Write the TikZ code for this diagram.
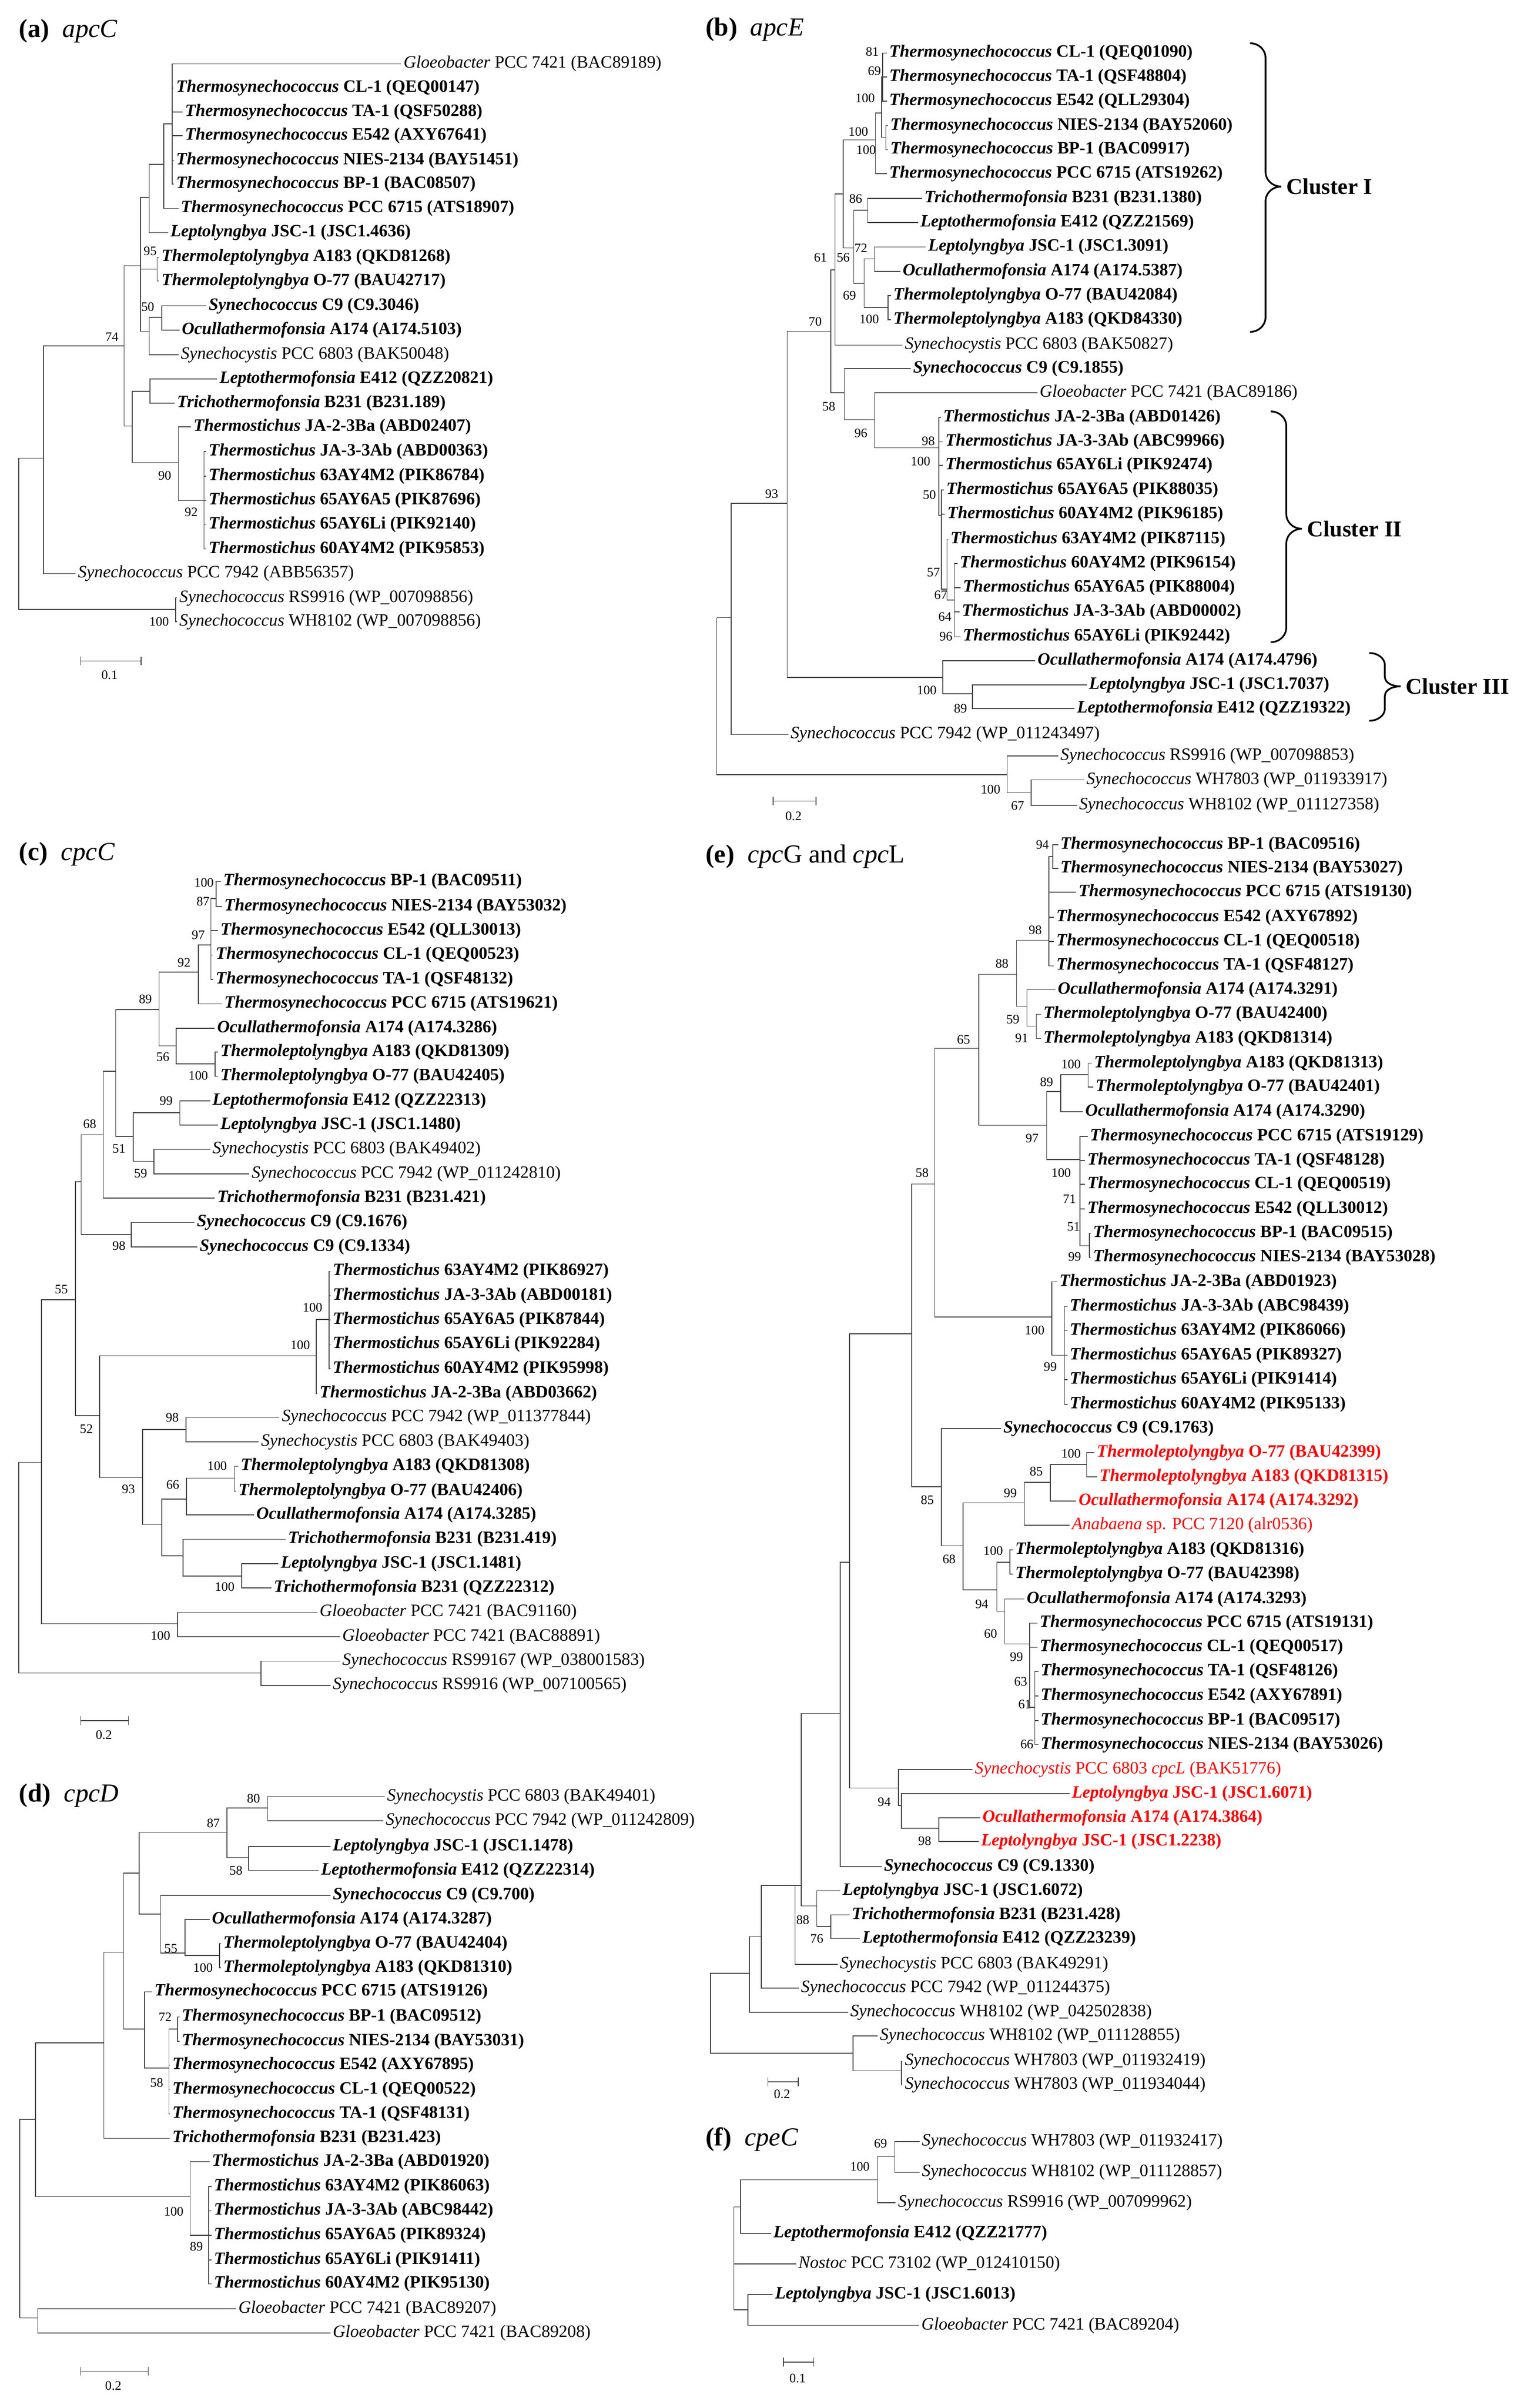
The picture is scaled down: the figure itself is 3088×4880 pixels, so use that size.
\documentclass[tikz,border=0pt]{standalone}
\usepackage{fontspec}
\setmainfont{Liberation Serif}
\usetikzlibrary{arrows.meta}
\newcommand\txb[2]{\textbf{\textit{#1} #2}}
\newcommand\txn[2]{\textit{#1} #2}
\newcommand\lv[5][]{\node[leaf,#1] (#2) at (#3,#4) {#5};}
\newcommand\cn[3]{\coordinate (#1) at (#2,#3);}
\newcommand\brl[2]{\foreach \cc in {#2}{\draw[branch] (#1) |- (\cc.west);}}
\newcommand\bri[2]{\foreach \cc in {#2}{\draw[branch] (#1) |- (\cc);}}
\newcounter{bsc}
\newcommand\bs[3]{\stepcounter{bsc}\node[bsl] (bs\arabic{bsc}) at (#1,#2) {#3};}
\newcommand\ttl[4]{\node[ttl] (#1) at (#2,#3) {#4};}
\newcommand\sbar[6]{\coordinate (#1a) at (#2,#4);\coordinate (#1b) at (#3,#4);
  \draw[sb] (#1a) -- (#1b);\node[bsl] (#1t) at (#5,#6) {0.2};}
\newcommand\sbarx[7]{\coordinate (#1a) at (#2,#4);\coordinate (#1b) at (#3,#4);
  \draw[sb] (#1a) -- (#1b);\node[bsl] (#1t) at (#5,#6) {#7};}
\begin{document}
\begin{tikzpicture}[x=0.1mm,y=-0.1mm,
  leaf/.style={anchor=west,inner xsep=1.2pt,inner ysep=0pt,font=\fontsize{10}{12}\selectfont},
  branch/.style={draw=black!75,line width=0.45pt},
  bsl/.style={font=\fontsize{7.5}{9}\selectfont,inner sep=0pt},
  ttl/.style={anchor=west,font=\fontsize{15}{18}\selectfont,inner sep=0pt},
  clu/.style={anchor=west,font=\fontsize{13}{15}\selectfont\bfseries,inner sep=0pt},
  sb/.style={draw=black!75,line width=0.45pt,{Bar[width=5pt]}-{Bar[width=5pt]}},
  brk/.style={draw=black,line width=1pt}]
\useasboundingbox (0,0) rectangle (3088,4880);
% ================= (a)
\begin{scope}[xscale=1/1.045,yscale=1/1.12]
\ttl{ta}{40}{70}{\textbf{(a)}\ \ \textit{apcC}}
\lv{a1}{850}{145}{\txn{Gloeobacter}{PCC 7421 (BAC89189)}}
\lv{a2}{368}{200}{\txb{Thermosynechococcus}{CL-1 (QEQ00147)}}
\lv{a3}{387}{254}{\txb{Thermosynechococcus}{TA-1 (QSF50288)}}
\lv{a4}{387}{308}{\txb{Thermosynechococcus}{E542 (AXY67641)}}
\lv{a5}{368}{364}{\txb{Thermosynechococcus}{NIES-2134 (BAY51451)}}
\lv{a6}{368}{418}{\txb{Thermosynechococcus}{BP-1 (BAC08507)}}
\lv{a7}{378}{473}{\txb{Thermosynechococcus}{PCC 6715 (ATS18907)}}
\lv{a8}{356}{528}{\txb{Leptolyngbya}{JSC-1 (JSC1.4636)}}
\lv{a9}{337}{584}{\txb{Thermoleptolyngbya}{A183 (QKD81268)}}
\lv{a10}{337}{638}{\txb{Thermoleptolyngbya}{O-77 (BAU42717)}}
\lv{a11}{437}{694}{\txb{Synechococcus}{C9 (C9.3046)}}
\lv{a12}{380}{749}{\txb{Ocullathermofonsia}{A174 (A174.5103)}}
\lv{a13}{378}{805}{\txn{Synechocystis}{PCC 6803 (BAK50048)}}
\lv{a14}{460}{860}{\txb{Leptothermofonsia}{E412 (QZZ20821)}}
\lv{a15}{370}{915}{\txb{Trichothermofonsia}{B231 (B231.189)}}
\lv{a16}{405}{969}{\txb{Thermostichus}{JA-2-3Ba (ABD02407)}}
\lv{a17}{437}{1025}{\txb{Thermostichus}{JA-3-3Ab (ABD00363)}}
\lv{a18}{437}{1081}{\txb{Thermostichus}{63AY4M2 (PIK86784)}}
\lv{a19}{437}{1136}{\txb{Thermostichus}{65AY6A5 (PIK87696)}}
\lv{a20}{437}{1190}{\txb{Thermostichus}{65AY6Li (PIK92140)}}
\lv{a21}{437}{1246}{\txb{Thermostichus}{60AY4M2 (PIK95853)}}
\lv{a22}{160}{1302}{\txn{Synechococcus}{PCC 7942 (ABB56357)}}
\lv{a23}{375}{1357}{\txn{Synechococcus}{RS9916 (WP\_007098856)}}
\lv{a24}{375}{1411}{\txn{Synechococcus}{WH8102 (WP\_007098856)}}
\cn{ar}{40}{1212}\cn{aA}{92}{1040}\cn{aB}{263}{785}\cn{aC}{298}{603}
\cn{aD}{280}{967}\cn{aE}{316}{448}\cn{aF}{333}{611}\cn{aG}{316}{752}
\cn{aH}{347}{373}\cn{aI}{365}{281}\cn{aJ}{343}{720}\cn{aK}{318}{888}
\cn{aL}{378}{1050}\cn{aM}{432}{1136}\cn{aN}{372}{1383}
\bri{ar}{aA,aN}\bri{aA}{aB}\brl{aA}{a22}\bri{aB}{aC,aD}\bri{aC}{aE,aF,aG}
\bri{aE}{aH}\brl{aE}{a8}\bri{aH}{aI}\brl{aH}{a7}\brl{aI}{a1,a2,a3,a4,a5,a6}
\brl{aF}{a9,a10}\bri{aG}{aJ}\brl{aG}{a13}\brl{aJ}{a11,a12}
\bri{aD}{aK,aL}\brl{aK}{a14,a15}\brl{aL}{a16}\bri{aL}{aM}
\brl{aM}{a17,a18,a19,a20,a21}\brl{aN}{a23,a24}
\bs{318}{570}{95}\bs{313}{697}{50}\bs{237}{765}{74}\bs{349}{1080}{90}
\bs{405}{1162}{92}\bs{337}{1411}{100}
\sbarx{sa}{170}{300}{1500}{232}{1532}{0.1}
\end{scope}
% ================= (b)
\begin{scope}[shift={(1440,0)},xscale=1/0.951,yscale=1/1.005]
\ttl{tb}{-10}{60}{\textbf{(b)}\ \ \textit{apcE}}
\lv{b1}{340}{108}{\txb{Thermosynechococcus}{CL-1 (QEQ01090)}}
\lv{b2}{340}{157}{\txb{Thermosynechococcus}{TA-1 (QSF48804)}}
\lv{b3}{340}{206}{\txb{Thermosynechococcus}{E542 (QLL29304)}}
\lv{b4}{342}{256}{\txb{Thermosynechococcus}{NIES-2134 (BAY52060)}}
\lv{b5}{342}{305}{\txb{Thermosynechococcus}{BP-1 (BAC09917)}}
\lv{b6}{340}{354}{\txb{Thermosynechococcus}{PCC 6715 (ATS19262)}}
\lv{b7}{408}{404}{\txb{Trichothermofonsia}{B231 (B231.1380)}}
\lv{b8}{400}{453}{\txb{Leptothermofonsia}{E412 (QZZ21569)}}
\lv{b9}{415}{503}{\txb{Leptolyngbya}{JSC-1 (JSC1.3091)}}
\lv{b10}{366}{553}{\txb{Ocullathermofonsia}{A174 (A174.5387)}}
\lv{b11}{348}{602}{\txb{Thermoleptolyngbya}{O-77 (BAU42084)}}
\lv{b12}{348}{651}{\txb{Thermoleptolyngbya}{A183 (QKD84330)}}
\lv{b13}{370}{703}{\txn{Synechocystis}{PCC 6803 (BAK50827)}}
\lv{b14}{386}{751}{\txb{Synechococcus}{C9 (C9.1855)}}
\lv{b15}{630}{800}{\txn{Gloeobacter}{PCC 7421 (BAC89186)}}
\lv{b16}{444}{850}{\txb{Thermostichus}{JA-2-3Ba (ABD01426)}}
\lv{b17}{448}{900}{\txb{Thermostichus}{JA-3-3Ab (ABC99966)}}
\lv{b18}{448}{948}{\txb{Thermostichus}{65AY6Li (PIK92474)}}
\lv{b19}{450}{998}{\txb{Thermostichus}{65AY6A5 (PIK88035)}}
\lv{b20}{452}{1047}{\txb{Thermostichus}{60AY4M2 (PIK96185)}}
\lv{b21}{458}{1099}{\txb{Thermostichus}{63AY4M2 (PIK87115)}}
\lv{b22}{476}{1148}{\txb{Thermostichus}{60AY4M2 (PIK96154)}}
\lv{b23}{482}{1197}{\txb{Thermostichus}{65AY6A5 (PIK88004)}}
\lv{b24}{480}{1246}{\txb{Thermostichus}{JA-3-3Ab (ABD00002)}}
\lv{b25}{482}{1297}{\txb{Thermostichus}{65AY6Li (PIK92442)}}
\lv{b26}{626}{1346}{\txb{Ocullathermofonsia}{A174 (A174.4796)}}
\lv{b27}{725}{1395}{\txb{Leptolyngbya}{JSC-1 (JSC1.7037)}}
\lv{b28}{702}{1443}{\txb{Leptothermofonsia}{E412 (QZZ19322)}}
\lv{b29}{150}{1496}{\txn{Synechococcus}{PCC 7942 (WP\_011243497)}}
\cn{bR}{12}{1258}\cn{bA}{40}{1258}\cn{bB}{148}{1025}\cn{bD}{448}{1380}
\cn{bE}{505}{1413}\cn{bC}{232}{675}\cn{bF}{240}{550}\cn{bH}{256}{395}
\cn{bI}{318}{285}\cn{bK}{330}{230}\cn{bL}{332}{157}\cn{bM}{338}{280}
\cn{bJ}{276}{505}\cn{bN}{303}{428}\cn{bO}{296}{577}\cn{bP}{316}{527}
\cn{bQ}{342}{626}\cn{bG}{258}{800}\cn{bT}{316}{855}\cn{bU}{440}{912}
\cn{bW}{445}{1050}\cn{bX}{456}{1200}\cn{bY}{470}{1222}
\bri{bR}{bA}\bri{bA}{bB}\brl{bA}{b29}\bri{bB}{bC,bD}\brl{bD}{b26}\bri{bD}{bE}
\brl{bE}{b27,b28}\bri{bC}{bF,bG}\bri{bF}{bH}\brl{bF}{b13}\bri{bH}{bI,bJ}
\bri{bI}{bK}\brl{bI}{b6}\bri{bK}{bL,bM}\brl{bL}{b1,b2,b3}\brl{bM}{b4,b5}
\bri{bJ}{bN,bO}\brl{bN}{b7,b8}\bri{bO}{bP,bQ}\brl{bP}{b9,b10}\brl{bQ}{b11,b12}
\brl{bG}{b14}\bri{bG}{bT}\brl{bT}{b15}\bri{bT}{bU}\brl{bU}{b16,b17,b18}
\bri{bU}{bW}\brl{bW}{b19,b20}\bri{bW}{bX}\brl{bX}{b21}\bri{bX}{bY}
\brl{bY}{b22,b23,b24,b25}
\bs{312}{105}{81}\bs{316}{145}{69}\bs{298}{200}{100}\bs{285}{268}{100}
\bs{300}{305}{100}\bs{280}{405}{86}\bs{290}{505}{72}\bs{212}{525}{61}
\bs{256}{525}{56}\bs{268}{602}{69}\bs{306}{650}{100}\bs{202}{655}{70}
\bs{228}{828}{58}\bs{290}{882}{96}\bs{420}{898}{98}\bs{405}{940}{100}
\bs{422}{1008}{50}\bs{430}{1166}{57}\bs{444}{1212}{67}\bs{452}{1256}{64}
\bs{454}{1296}{96}\bs{118}{1006}{93}\bs{417}{1406}{100}\bs{482}{1443}{89}
\coordinate (k1) at (1100,380);
\draw[brk] (1040,88) to[out=0,in=90] (1070,118) -- (1070,350) to[out=-90,in=180] (k1)
  to[out=180,in=90] (1070,410) -- (1070,646) to[out=-90,in=0] (1040,676);
\node[clu] (cl1) at (1110,380) {Cluster I};
\coordinate (k2) at (1140,1077);
\draw[brk] (1080,838) to[out=0,in=90] (1110,868) -- (1110,1047) to[out=-90,in=180] (k2)
  to[out=180,in=90] (1110,1107) -- (1110,1278) to[out=-90,in=0] (1080,1308);
\node[clu] (cl2) at (1150,1077) {Cluster II};
\coordinate (k3) at (1330,1398);
\draw[brk] (1270,1330) to[out=0,in=90] (1300,1355) -- (1300,1378) to[out=-90,in=180] (k3)
  to[out=180,in=90] (1300,1418) -- (1300,1443) to[out=-90,in=0] (1270,1468);
\node[clu] (cl3) at (1340,1398) {Cluster III};
\end{scope}
\begin{scope}[shift={(1440,1500)},xscale=1/0.951,yscale=1/3]
\lv{b30}{670}{96}{\txn{Synechococcus}{RS9916 (WP\_007098853)}}
\lv{b31}{720}{242}{\txn{Synechococcus}{WH7803 (WP\_011933917)}}
\lv{b32}{706}{396}{\txn{Synechococcus}{WH8102 (WP\_011127358)}}
\cn{bS}{572}{210}\cn{bZ}{618}{320}
\bri{bR}{bS}\brl{bS}{b30}\bri{bS}{bZ}\brl{bZ}{b31,b32}
\bs{540}{300}{100}\bs{592}{400}{67}
\sbar{sbb}{120}{204}{370}{160}{462}
\end{scope}
% ================= (c)
\begin{scope}[shift={(0,1660)},xscale=1/1.045,yscale=1/0.871]
\ttl{tc}{40}{62}{\textbf{(c)}\ \ \textit{cpcC}}
\lv{c1}{468}{110}{\txb{Thermosynechococcus}{BP-1 (BAC09511)}}
\lv{c2}{470}{154}{\txb{Thermosynechococcus}{NIES-2134 (BAY53032)}}
\lv{c3}{462}{197}{\txb{Thermosynechococcus}{E542 (QLL30013)}}
\lv{c4}{452}{240}{\txb{Thermosynechococcus}{CL-1 (QEQ00523)}}
\lv{c5}{452}{283}{\txb{Thermosynechococcus}{TA-1 (QSF48132)}}
\lv{c6}{470}{326}{\txb{Thermosynechococcus}{PCC 6715 (ATS19621)}}
\lv{c7}{455}{369}{\txb{Ocullathermofonsia}{A174 (A174.3286)}}
\lv{c8}{462}{411}{\txb{Thermoleptolyngbya}{A183 (QKD81309)}}
\lv{c9}{462}{454}{\txb{Thermoleptolyngbya}{O-77 (BAU42405)}}
\lv{c10}{445}{497}{\txb{Leptothermofonsia}{E412 (QZZ22313)}}
\lv{c11}{462}{540}{\txb{Leptolyngbya}{JSC-1 (JSC1.1480)}}
\lv{c12}{445}{583}{\txn{Synechocystis}{PCC 6803 (BAK49402)}}
\lv{c13}{528}{626}{\txn{Synechococcus}{PCC 7942 (WP\_011242810)}}
\lv{c14}{455}{669}{\txb{Trichothermofonsia}{B231 (B231.421)}}
\lv{c15}{412}{712}{\txb{Synechococcus}{C9 (C9.1676)}}
\lv{c16}{418}{755}{\txb{Synechococcus}{C9 (C9.1334)}}
\lv{c17}{700}{798}{\txb{Thermostichus}{63AY4M2 (PIK86927)}}
\lv{c18}{700}{841}{\txb{Thermostichus}{JA-3-3Ab (ABD00181)}}
\lv{c19}{700}{884}{\txb{Thermostichus}{65AY6A5 (PIK87844)}}
\lv{c20}{700}{927}{\txb{Thermostichus}{65AY6Li (PIK92284)}}
\lv{c21}{700}{970}{\txb{Thermostichus}{60AY4M2 (PIK95998)}}
\lv{c22}{672}{1014}{\txb{Thermostichus}{JA-2-3Ba (ABD03662)}}
\lv{c23}{592}{1056}{\txn{Synechococcus}{PCC 7942 (WP\_011377844)}}
\lv{c24}{548}{1099}{\txn{Synechocystis}{PCC 6803 (BAK49403)}}
\lv{c25}{505}{1142}{\txb{Thermoleptolyngbya}{A183 (QKD81308)}}
\lv{c26}{500}{1186}{\txb{Thermoleptolyngbya}{O-77 (BAU42406)}}
\lv{c27}{538}{1228}{\txb{Ocullathermofonsia}{A174 (A174.3285)}}
\lv{c28}{605}{1271}{\txb{Trichothermofonsia}{B231 (B231.419)}}
\lv{c29}{590}{1314}{\txb{Leptolyngbya}{JSC-1 (JSC1.1481)}}
\lv{c30}{575}{1357}{\txb{Trichothermofonsia}{B231 (QZZ22312)}}
\lv{c31}{672}{1400}{\txn{Gloeobacter}{PCC 7421 (BAC91160)}}
\lv{c32}{720}{1443}{\txn{Gloeobacter}{PCC 7421 (BAC88891)}}
\lv{c33}{720}{1486}{\txn{Synechococcus}{RS99167 (WP\_038001583)}}
\lv{c34}{700}{1529}{\txn{Synechococcus}{RS9916 (WP\_007100565)}}
\cn{cR}{40}{1135}\cn{cA}{88}{1135}\cn{cY}{376}{1420}\cn{cZ}{553}{1507}
\cn{cB}{160}{848}\cn{cC}{172}{640}\cn{cF}{278}{733}\cn{cE}{219}{557}
\cn{cG}{245}{445}\cn{cH}{337}{336}\cn{cJ}{420}{270}\cn{cL}{447}{222}
\cn{cM}{458}{140}\cn{cK}{373}{400}\cn{cO}{456}{432}\cn{cI}{282}{560}
\cn{cP}{381}{518}\cn{cQ}{326}{604}\cn{cD}{211}{1053}\cn{cS}{670}{947}
\cn{cU}{697}{883}\cn{cT}{302}{1162}\cn{cV}{394}{1077}\cn{cW}{343}{1245}
\cn{cX}{395}{1200}\cn{cX3}{497}{1163}\cn{cX2}{388}{1300}\cn{cX4}{512}{1336}
\bri{cR}{cA,cZ}\bri{cA}{cB,cY}\brl{cY}{c31,c32}\brl{cZ}{c33,c34}
\bri{cB}{cC,cD}\bri{cC}{cE,cF}\brl{cF}{c15,c16}\bri{cE}{cG}\brl{cE}{c14}
\bri{cG}{cH,cI}\bri{cH}{cJ,cK}\bri{cJ}{cL}\brl{cJ}{c6}\bri{cL}{cM}\brl{cL}{c3,c4,c5}
\brl{cM}{c1,c2}\brl{cK}{c7}\bri{cK}{cO}\brl{cO}{c8,c9}\bri{cI}{cP,cQ}
\brl{cP}{c10,c11}\brl{cQ}{c12,c13}\bri{cD}{cS,cT}\bri{cS}{cU}\brl{cS}{c22}
\brl{cU}{c17,c18,c19,c20,c21}\bri{cT}{cV,cW}\brl{cV}{c23,c24}\bri{cW}{cX,cX2}
\bri{cX}{cX3}\brl{cX}{c27}\brl{cX3}{c25,c26}\brl{cX2}{c28}\bri{cX2}{cX4}\brl{cX4}{c29,c30}
\bs{432}{112}{100}\bs{430}{145}{87}\bs{420}{205}{97}\bs{390}{253}{92}
\bs{308}{318}{89}\bs{345}{420}{56}\bs{420}{453}{100}\bs{352}{497}{99}
\bs{252}{582}{51}\bs{298}{625}{59}\bs{190}{538}{68}\bs{252}{753}{98}
\bs{130}{830}{55}\bs{662}{862}{100}\bs{636}{928}{100}\bs{183}{1076}{52}
\bs{365}{1056}{98}\bs{460}{1142}{100}\bs{366}{1175}{66}\bs{272}{1183}{93}
\bs{476}{1355}{100}\bs{340}{1441}{100}
\end{scope}
% ================= (d)
\begin{scope}[shift={(0,3420)},xscale=1/1.045,yscale=1/1.074]
\sbar{sbc}{170}{273}{72}{220}{103}
\ttl{td}{40}{235}{\textbf{(d)}\ \ \textit{cpcD}}
\lv{d1}{815}{237}{\txn{Synechocystis}{PCC 6803 (BAK49401)}}
\lv{d2}{812}{290}{\txn{Synechococcus}{PCC 7942 (WP\_011242809)}}
\lv{d3}{700}{346}{\txb{Leptolyngbya}{JSC-1 (JSC1.1478)}}
\lv{d4}{675}{398}{\txb{Leptothermofonsia}{E412 (QZZ22314)}}
\lv{d5}{700}{452}{\txb{Synechococcus}{C9 (C9.700)}}
\lv{d6}{444}{505}{\txb{Ocullathermofonsia}{A174 (A174.3287)}}
\lv{d7}{468}{557}{\txb{Thermoleptolyngbya}{O-77 (BAU42404)}}
\lv{d8}{468}{610}{\txb{Thermoleptolyngbya}{A183 (QKD81310)}}
\lv{d9}{322}{662}{\txb{Thermosynechococcus}{PCC 6715 (ATS19126)}}
\lv{d10}{380}{717}{\txb{Thermosynechococcus}{BP-1 (BAC09512)}}
\lv{d11}{380}{770}{\txb{Thermosynechococcus}{NIES-2134 (BAY53031)}}
\lv{d12}{360}{822}{\txb{Thermosynechococcus}{E542 (AXY67895)}}
\lv{d13}{360}{875}{\txb{Thermosynechococcus}{CL-1 (QEQ00522)}}
\lv{d14}{360}{928}{\txb{Thermosynechococcus}{TA-1 (QSF48131)}}
\lv{d15}{360}{981}{\txb{Trichothermofonsia}{B231 (B231.423)}}
\lv{d16}{444}{1032}{\txb{Thermostichus}{JA-2-3Ba (ABD01920)}}
\lv{d17}{448}{1086}{\txb{Thermostichus}{63AY4M2 (PIK86063)}}
\lv{d18}{448}{1139}{\txb{Thermostichus}{JA-3-3Ab (ABC98442)}}
\lv{d19}{448}{1192}{\txb{Thermostichus}{65AY6A5 (PIK89324)}}
\lv{d20}{448}{1246}{\txb{Thermostichus}{65AY6Li (PIK91411)}}
\lv{d21}{448}{1298}{\txb{Thermostichus}{60AY4M2 (PIK95130)}}
\lv{d22}{500}{1352}{\txn{Gloeobacter}{PCC 7421 (BAC89207)}}
\lv{d23}{700}{1405}{\txn{Gloeobacter}{PCC 7421 (BAC89208)}}
\cn{dR}{42}{1372}\cn{dZ}{80}{1372}\cn{dA}{75}{940}\cn{dC}{403}{1108}
\cn{dD}{442}{1192}\cn{dB}{220}{773}\cn{dE}{262}{576}\cn{dF}{295}{404}
\cn{dH}{481}{315}\cn{dJ}{567}{262}\cn{dK}{527}{370}\cn{dI}{340}{493}
\cn{dL}{392}{578}\cn{dM}{465}{583}\cn{dG}{306}{743}\cn{dN}{358}{828}\cn{dO}{376}{743}
\bri{dR}{dA,dZ}\brl{dZ}{d22,d23}\bri{dA}{dB,dC}\brl{dC}{d16}\bri{dC}{dD}
\brl{dD}{d17,d18,d19,d20,d21}\bri{dB}{dE}\brl{dB}{d15}\bri{dE}{dF,dG}
\bri{dF}{dH,dI}\bri{dH}{dJ,dK}\brl{dJ}{d1,d2}\brl{dK}{d3,d4}\brl{dI}{d5}
\bri{dI}{dL}\brl{dL}{d6}\bri{dL}{dM}\brl{dM}{d7,d8}\brl{dG}{d9}\bri{dG}{dN}
\bri{dN}{dO}\brl{dN}{d12,d13,d14}\brl{dO}{d10,d11}
\bs{537}{242}{80}\bs{452}{295}{87}\bs{500}{398}{58}\bs{362}{568}{55}
\bs{430}{610}{100}\bs{350}{717}{72}\bs{332}{860}{58}\bs{368}{1140}{100}\bs{416}{1217}{89}
\sbar{sbd}{170}{315}{1488}{240}{1520}
\end{scope}
% ================= (e)
\begin{scope}[shift={(1440,1660)},xscale=1/0.951,yscale=1/1.12]
\ttl{te}{-10}{85}{\textbf{(e)}\ \ \textit{cpc}G and \textit{cpc}L}
\lv{e1}{670}{58}{\txb{Thermosynechococcus}{BP-1 (BAC09516)}}
\lv{e2}{670}{112}{\txb{Thermosynechococcus}{NIES-2134 (BAY53027)}}
\lv{e3}{705}{166}{\txb{Thermosynechococcus}{PCC 6715 (ATS19130)}}
\lv{e4}{662}{223}{\txb{Thermosynechococcus}{E542 (AXY67892)}}
\lv{e5}{662}{278}{\txb{Thermosynechococcus}{CL-1 (QEQ00518)}}
\lv{e6}{662}{333}{\txb{Thermosynechococcus}{TA-1 (QSF48127)}}
\lv{e7}{665}{387}{\txb{Ocullathermofonsia}{A174 (A174.3291)}}
\lv{e8}{637}{443}{\txb{Thermoleptolyngbya}{O-77 (BAU42400)}}
\lv{e9}{637}{498}{\txb{Thermoleptolyngbya}{A183 (QKD81314)}}
\lv{e10}{735}{554}{\txb{Thermoleptolyngbya}{A183 (QKD81313)}}
\lv{e11}{738}{608}{\txb{Thermoleptolyngbya}{O-77 (BAU42401)}}
\lv{e12}{718}{664}{\txb{Ocullathermofonsia}{A174 (A174.3290)}}
\lv{e13}{727}{720}{\txb{Thermosynechococcus}{PCC 6715 (ATS19129)}}
\lv{e14}{722}{775}{\txb{Thermosynechococcus}{TA-1 (QSF48128)}}
\lv{e15}{722}{829}{\txb{Thermosynechococcus}{CL-1 (QEQ00519)}}
\lv{e16}{722}{885}{\txb{Thermosynechococcus}{E542 (QLL30012)}}
\lv{e17}{733}{940}{\txb{Thermosynechococcus}{BP-1 (BAC09515)}}
\lv{e18}{733}{995}{\txb{Thermosynechococcus}{NIES-2134 (BAY53028)}}
\lv{e19}{668}{1050}{\txb{Thermostichus}{JA-2-3Ba (ABD01923)}}
\lv{e20}{688}{1106}{\txb{Thermostichus}{JA-3-3Ab (ABC98439)}}
\lv{e21}{688}{1161}{\txb{Thermostichus}{63AY4M2 (PIK86066)}}
\lv{e22}{688}{1217}{\txb{Thermostichus}{65AY6A5 (PIK89327)}}
\lv{e23}{688}{1272}{\txb{Thermostichus}{65AY6Li (PIK91414)}}
\lv{e24}{688}{1328}{\txb{Thermostichus}{60AY4M2 (PIK95133)}}
\lv{e25}{560}{1383}{\txb{Synechococcus}{C9 (C9.1763)}}
\lv[text=red]{e26}{740}{1438}{\txb{Thermoleptolyngbya}{O-77 (BAU42399)}}
\lv[text=red]{e27}{745}{1493}{\txb{Thermoleptolyngbya}{A183 (QKD81315)}}
\lv[text=red]{e28}{705}{1548}{\txb{Ocullathermofonsia}{A174 (A174.3292)}}
\cn{eJ}{388}{1168}\cn{eN}{432}{828}\cn{eO}{445}{1515}\cn{eS}{655}{1505}
\cn{eT}{725}{1465}\cn{eBB}{658}{1130}\cn{eCC}{682}{1217}\cn{eAA}{517}{520}
\cn{eDD}{590}{352}\cn{eFF}{652}{275}\cn{eHH}{660}{85}\cn{eGG}{610}{425}
\cn{eII}{628}{470}\cn{eEE}{648}{695}\cn{eJJ}{675}{618}\cn{eLL}{728}{580}
\cn{eKK}{712}{773}\cn{eNN}{730}{968}
\bs{695}{1440}{100}\bs{628}{1480}{85}\bs{578}{1530}{99}\bs{418}{1545}{85}
\bs{625}{1160}{100}\bs{655}{1243}{99}\bs{408}{803}{58}\bs{488}{500}{65}
\bs{626}{252}{98}\bs{562}{328}{88}\bs{640}{58}{94}\bs{583}{455}{59}\bs{600}{497}{91}
\bs{695}{556}{100}\bs{648}{597}{89}\bs{620}{725}{97}\bs{676}{803}{100}
\bs{692}{862}{71}\bs{700}{925}{51}\bs{702}{993}{99}
\end{scope}
\begin{scope}[shift={(1440,3000)},xscale=1/0.951,yscale=1/1.206]
\lv[text=red]{e29}{692}{110}{\txn{Anabaena}{sp. PCC 7120 (alr0536)}}
\lv{e30}{583}{170}{\txb{Thermoleptolyngbya}{A183 (QKD81316)}}
\lv{e31}{583}{229}{\txb{Thermoleptolyngbya}{O-77 (BAU42398)}}
\lv{e32}{605}{290}{\txb{Ocullathermofonsia}{A174 (A174.3293)}}
\lv{e33}{630}{349}{\txb{Thermosynechococcus}{PCC 6715 (ATS19131)}}
\lv{e34}{630}{408}{\txb{Thermosynechococcus}{CL-1 (QEQ00517)}}
\lv{e35}{632}{467}{\txb{Thermosynechococcus}{TA-1 (QSF48126)}}
\lv{e36}{632}{527}{\txb{Thermosynechococcus}{E542 (AXY67891)}}
\lv{e37}{632}{587}{\txb{Thermosynechococcus}{BP-1 (BAC09517)}}
\lv{e38}{632}{646}{\txb{Thermosynechococcus}{NIES-2134 (BAY53026)}}
\lv[text=red]{e39}{505}{707}{\textit{Synechocystis} PCC 6803 \textit{cpcL} (BAK51776)}
\lv[text=red]{e40}{692}{766}{\txb{Leptolyngbya}{JSC-1 (JSC1.6071)}}
\lv[text=red]{e41}{520}{825}{\txb{Ocullathermofonsia}{A174 (A174.3864)}}
\lv[text=red]{e42}{517}{883}{\txb{Leptolyngbya}{JSC-1 (JSC1.2238)}}
\lv{e43}{330}{944}{\txb{Synechococcus}{C9 (C9.1330)}}
\lv{e44}{250}{1003}{\txb{Leptolyngbya}{JSC-1 (JSC1.6072)}}
\lv{e45}{268}{1062}{\txb{Trichothermofonsia}{B231 (B231.428)}}
\lv{e46}{288}{1120}{\txb{Leptothermofonsia}{E412 (QZZ23239)}}
\lv{e47}{245}{1183}{\txn{Synechocystis}{PCC 6803 (BAK49291)}}
\lv{e48}{170}{1241}{\txn{Synechococcus}{PCC 7942 (WP\_011244375)}}
\lv{e49}{265}{1300}{\txn{Synechococcus}{WH8102 (WP\_042502838)}}
\lv{e50}{322}{1358}{\txn{Synechococcus}{WH8102 (WP\_011128855)}}
\lv{e51}{370}{1420}{\txn{Synechococcus}{WH7803 (WP\_011932419)}}
\lv{e52}{370}{1478}{\txn{Synechococcus}{WH7803 (WP\_011934044)}}
\cn{eR}{0}{1300}\cn{eZ}{275}{1400}\cn{eY}{368}{1443}\cn{eA}{75}{1205}
\cn{eB}{98}{1115}\cn{eC}{163}{990}\cn{eD}{175}{990}\cn{eG}{205}{1040}
\cn{eH}{232}{1090}\cn{eF}{250}{570}\cn{eI}{268}{200}\cn{eK}{362}{752}
\cn{eL}{368}{795}\cn{eM}{440}{850}\cn{eP}{487}{160}\cn{eQ}{605}{55}
\cn{eR2}{552}{268}\cn{eU}{577}{200}\cn{eV}{567}{320}\cn{eW}{615}{400}\cn{eX}{625}{555}
\bri{eR}{eA,eZ}\brl{eZ}{e50}\bri{eZ}{eY}\brl{eY}{e51,e52}\bri{eA}{eB}\brl{eA}{e49}
\bri{eB}{eC}\brl{eB}{e48}\bri{eC}{eD}\brl{eC}{e47}\bri{eD}{eF,eG}\brl{eG}{e44}
\bri{eG}{eH}\brl{eH}{e45,e46}\bri{eF}{eI}\brl{eF}{e43}\bri{eI}{eJ,eK}
\brl{eK}{e39}\bri{eK}{eL}\brl{eL}{e40}\bri{eL}{eM}\brl{eM}{e41,e42}
\bri{eJ}{eN,eO}\brl{eO}{e25}\bri{eO}{eP}\bri{eP}{eQ,eR2}\bri{eQ}{eS}\brl{eQ}{e29}
\bri{eS}{eT}\brl{eS}{e28}\brl{eT}{e26,e27}\bri{eR2}{eU,eV}\brl{eU}{e30,e31}
\brl{eV}{e32}\bri{eV}{eW}\brl{eW}{e33,e34}\bri{eW}{eX}\brl{eX}{e35,e36,e37,e38}
\bri{eN}{eAA,eBB}\brl{eBB}{e19}\bri{eBB}{eCC}\brl{eCC}{e20,e21,e22,e23,e24}
\bri{eAA}{eDD,eEE}\bri{eDD}{eFF,eGG}\bri{eFF}{eHH}\brl{eFF}{e3,e4,e5,e6}
\brl{eHH}{e1,e2}\brl{eGG}{e7}\bri{eGG}{eII}\brl{eII}{e8,e9}\bri{eEE}{eJJ,eKK}
\bri{eJJ}{eLL}\brl{eJJ}{e12}\brl{eLL}{e10,e11}\brl{eKK}{e13,e14,e15,e16}
\bri{eKK}{eNN}\brl{eNN}{e17,e18}
\bs{178}{1075}{88}\bs{205}{1120}{76}\bs{335}{786}{94}\bs{413}{882}{98}
\bs{460}{193}{68}\bs{545}{172}{100}\bs{523}{302}{94}\bs{540}{375}{60}
\bs{590}{432}{99}\bs{598}{492}{63}\bs{606}{548}{61}\bs{610}{645}{66}
\sbar{sbe}{110}{170}{1470}{138}{1500}
\end{scope}
% ================= (f)
\begin{scope}[shift={(1440,4240)},xscale=1/0.951,yscale=1/2.45]
\ttl{tf}{-10}{235}{\textbf{(f)}\ \ \textit{cpeC}}
\lv{f1}{403}{245}{\txn{Synechococcus}{WH7803 (WP\_011932417)}}
\lv{f2}{403}{398}{\txn{Synechococcus}{WH8102 (WP\_011128857)}}
\lv{f3}{357}{548}{\txn{Synechococcus}{RS9916 (WP\_007099962)}}
\lv{f4}{117}{700}{\txb{Leptothermofonsia}{E412 (QZZ21777)}}
\lv{f5}{165}{852}{\txn{Nostoc}{PCC 73102 (WP\_012410150)}}
\lv{f6}{120}{1005}{\txb{Leptolyngbya}{JSC-1 (JSC1.6013)}}
\lv{f7}{402}{1158}{\txn{Gloeobacter}{PCC 7421 (BAC89204)}}
\cn{fR}{45}{852}\cn{fA}{58}{570}\cn{fB}{72}{1080}\cn{fC}{322}{435}\cn{fD}{355}{320}
\bri{fR}{fA,fB}\brl{fR}{f5}\bri{fA}{fC}\brl{fA}{f4}\bri{fC}{fD}\brl{fC}{f3}
\brl{fD}{f1,f2}\brl{fB}{f6,f7}
\bs{328}{255}{69}\bs{288}{370}{100}
\sbarx{sbf}{140}{200}{1340}{168}{1420}{0.1}
\end{scope}
\end{tikzpicture}
\end{document}
